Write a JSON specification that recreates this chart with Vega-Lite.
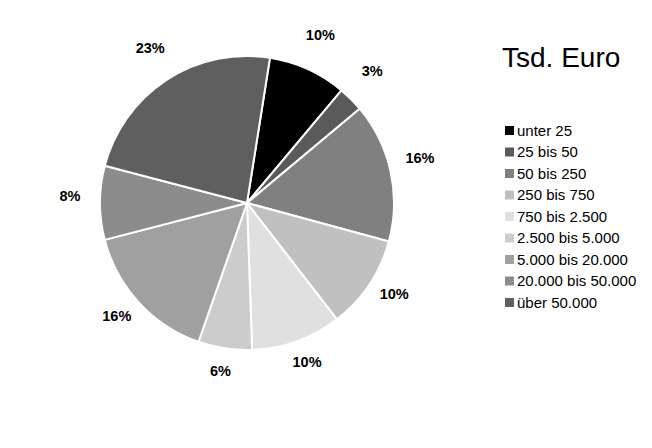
{
  "$schema": "https://vega.github.io/schema/vega-lite/v6.json",
  "width": 494,
  "height": 316,
  "autosize": "none",
  "padding": {"left": 0, "top": 45, "right": 158, "bottom": 87},
  "background": "white",
  "config": {"view": {"stroke": null}, "font": "Liberation Sans"},
  "data": {
    "values": [
      {"nr": 1, "klasse": "unter 25", "anteil": 8.6, "label": "10%"},
      {"nr": 2, "klasse": "25 bis 50", "anteil": 2.8, "label": "3%"},
      {"nr": 3, "klasse": "50 bis 250", "anteil": 15.3, "label": "16%"},
      {"nr": 4, "klasse": "250 bis 750", "anteil": 10.3, "label": "10%"},
      {"nr": 5, "klasse": "750 bis 2.500", "anteil": 9.9, "label": "10%"},
      {"nr": 6, "klasse": "2.500 bis 5.000", "anteil": 5.9, "label": "6%"},
      {"nr": 7, "klasse": "5.000 bis 20.000", "anteil": 15.6, "label": "16%"},
      {"nr": 8, "klasse": "20.000 bis 50.000", "anteil": 8.1, "label": "8%"},
      {"nr": 9, "klasse": "über 50.000", "anteil": 23.4, "label": "23%"}
    ]
  },
  "encoding": {
    "theta": {"field": "anteil", "type": "quantitative", "stack": true, "scale": {"range": [0.157, 6.440]}},
    "order": {"field": "nr", "type": "quantitative"}
  },
  "layer": [
    {
      "mark": {"type": "arc", "outerRadius": 147, "stroke": "white", "strokeWidth": 2},
      "encoding": {
        "color": {
          "field": "klasse",
          "type": "nominal",
          "sort": ["unter 25", "25 bis 50", "50 bis 250", "250 bis 750", "750 bis 2.500", "2.500 bis 5.000", "5.000 bis 20.000", "20.000 bis 50.000", "über 50.000"],
          "scale": {
            "domain": ["unter 25", "25 bis 50", "50 bis 250", "250 bis 750", "750 bis 2.500", "2.500 bis 5.000", "5.000 bis 20.000", "20.000 bis 50.000", "über 50.000"],
            "range": ["#000000", "#5a5a5a", "#808080", "#c0c0c0", "#e0e0e0", "#cccccc", "#a0a0a0", "#8c8c8c", "#5f5f5f"]
          },
          "legend": {
            "title": "Tsd. Euro",
            "orient": "right",
            "offset": 8,
            "padding": 0,
            "titleFontSize": 28,
            "titleFontWeight": "normal",
            "titleColor": "black",
            "titleFont": "Liberation Sans",
            "titlePadding": 50,
            "titleLimit": 300,
            "symbolType": "square",
            "symbolSize": 81,
            "symbolStrokeWidth": 0,
            "labelFontSize": 15,
            "labelFont": "Liberation Sans",
            "labelColor": "black",
            "labelOffset": 0,
            "rowPadding": 5.5,
            "labelLimit": 300
          }
        }
      }
    },
    {
      "mark": {"type": "text", "radius": 177, "dy": -6, "fontWeight": "bold", "fontSize": 14.5, "font": "Liberation Sans", "color": "black"},
      "encoding": {"text": {"field": "label", "type": "nominal"}}
    }
  ]
}
